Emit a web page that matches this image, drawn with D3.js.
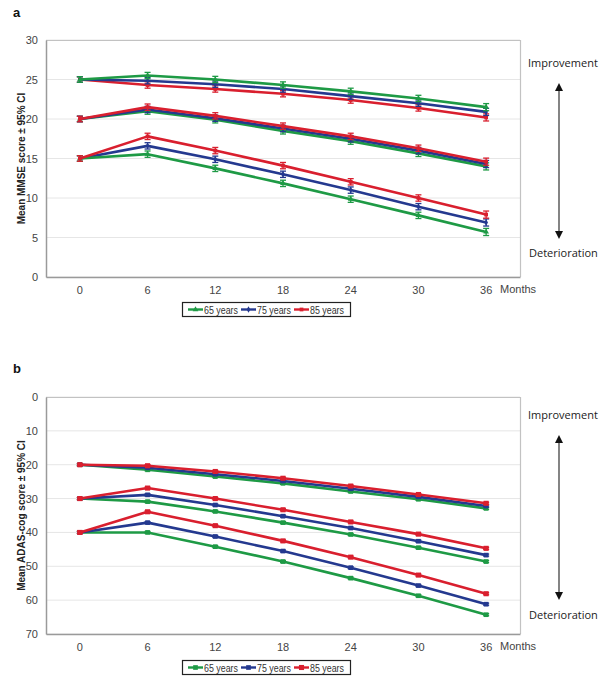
<!DOCTYPE html>
<html><head><meta charset="utf-8">
<script src="https://cdn.jsdelivr.net/npm/d3@7/dist/d3.min.js"></script>
<style>
body{margin:0;background:#fff;}
svg{display:block;font-family:"Liberation Sans",Arial,sans-serif;}
</style></head>
<body>
<svg id="chart" width="600" height="685"></svg>
<script>
// ---- Data ----
const months = ["0","6","12","18","24","30","36"];
const ageGroups = ["65 years","75 years","85 years"];
const ageColors = ["#1e9a45","#24398f","#d91f2e"];

// Panel a: MMSE (baseline 25, 20, 15)
const mmse65_25 = [25, 25.5, 25.0, 24.3, 23.5, 22.6, 21.5];
const mmse75_25 = [25, 24.85, 24.4, 23.8, 22.9, 22.0, 20.9];
const mmse85_25 = [25, 24.3, 23.8, 23.2, 22.4, 21.4, 20.2];
const mmse65_20 = [20, 21.0, 19.9, 18.5, 17.2, 15.65, 14.0];
const mmse75_20 = [20, 21.2, 20.1, 18.8, 17.5, 16.0, 14.3];
const mmse85_20 = [20, 21.5, 20.4, 19.1, 17.8, 16.3, 14.6];
const mmse65_15 = [15, 15.55, 13.75, 11.85, 9.85, 7.8, 5.7];
const mmse75_15 = [15, 16.6, 14.9, 13.0, 11.0, 8.9, 6.9];
const mmse85_15 = [15, 17.8, 16.0, 14.1, 12.05, 10.0, 7.9];
const mmseCI = [0.35, 0.4, 0.4, 0.4, 0.4, 0.4, 0.45];
const mmseTicks = [0,5,10,15,20,25,30];

// Panel b: ADAS-cog (baseline 20, 30, 40)
const adas65_20 = [20, 21.5, 23.5, 25.5, 27.9, 30.2, 32.9];
const adas75_20 = [20, 20.9, 22.8, 24.8, 27.1, 29.5, 32.2];
const adas85_20 = [20, 20.3, 22.0, 24.0, 26.3, 28.8, 31.4];
const adas65_30 = [30, 30.9, 33.8, 37.1, 40.6, 44.5, 48.6];
const adas75_30 = [30, 28.9, 31.9, 35.2, 38.7, 42.6, 46.7];
const adas85_30 = [30, 26.9, 30.0, 33.3, 36.9, 40.5, 44.7];
const adas65_40 = [40, 40.0, 44.2, 48.6, 53.5, 58.7, 64.3];
const adas75_40 = [40, 37.1, 41.2, 45.5, 50.4, 55.7, 61.2];
const adas85_40 = [40, 33.9, 38.0, 42.5, 47.3, 52.6, 58.1];
const adasCI = [0.3, 0.3, 0.3, 0.3, 0.3, 0.3, 0.3];
const adasTicks = [0,10,20,30,40,50,60,70];

const svg = d3.select("#chart");

function drawPanel(cfg){
  const g = svg.append("g");
  const x = d3.scaleBand().domain(months).range([cfg.left, cfg.right]);
  const xc = m => x(m) + x.bandwidth()/2;
  const y = d3.scaleLinear().domain(cfg.domain).range([cfg.bottom, cfg.top]);

  // panel letter
  g.append("text").attr("x", 13).attr("y", cfg.letterY).text(cfg.letter)
    .attr("font-weight","bold").attr("font-size",13).attr("fill","#111");

  // grid
  g.append("g").selectAll("line").data(cfg.ticks).join("line")
    .attr("x1", cfg.left).attr("x2", cfg.right)
    .attr("y1", d=>y(d)).attr("y2", d=>y(d))
    .attr("stroke","#e6e6e6").attr("stroke-width",1);

  // frame (top & right)
  g.append("path")
    .attr("d", `M${cfg.left},${cfg.top+0.5}H${cfg.right+0.5}V${cfg.bottom}`)
    .attr("fill","none").attr("stroke","#c2c2c2").attr("stroke-width",1.2);

  // y axis
  const yAxis = d3.axisLeft(y).tickValues(cfg.ticks).tickSize(0).tickPadding(8);
  const ya = g.append("g").attr("transform",`translate(${cfg.left},0)`).call(yAxis);
  ya.select(".domain").attr("stroke","#9a9a9a").attr("stroke-width",1.5);
  ya.selectAll("text").attr("font-size",11).attr("fill","#444")
    .attr("font-family","'Liberation Sans',Arial,sans-serif");

  // x axis
  const xAxis = d3.axisBottom(x).tickSize(0).tickPadding(9);
  const xa = g.append("g").attr("transform",`translate(0,${cfg.axisY})`).call(xAxis);
  xa.select(".domain").attr("stroke","#9a9a9a").attr("stroke-width",1.5);
  xa.selectAll("text").attr("font-size",11).attr("fill","#444")
    .attr("font-family","'Liberation Sans',Arial,sans-serif");
  g.append("text").attr("x", 500).attr("y", cfg.axisY + 16).text("Months")
    .attr("font-size",11).attr("fill","#444");

  // y label
  g.append("text")
    .attr("transform",`translate(25,${(cfg.top+cfg.bottom)/2}) rotate(-90)`)
    .attr("text-anchor","middle").attr("font-size",10).attr("font-weight","bold")
    .attr("fill","#222").text(cfg.ylabel);

  // series
  const line = d3.line().x((d,i)=>xc(months[i])).y(d=>y(d));
  cfg.series.forEach(s=>{
    const col = ageColors[s.age];
    g.append("path").datum(s.values).attr("d", line)
      .attr("fill","none").attr("stroke",col).attr("stroke-width",2.6)
      .attr("stroke-linejoin","round");
    const eb = g.append("g").attr("stroke",col).attr("stroke-width",1.3);
    s.values.forEach((v,i)=>{
      const cx = xc(months[i]), e = cfg.ci[i];
      const y1 = y(v - e), y2 = y(v + e);
      eb.append("line").attr("x1",cx).attr("x2",cx).attr("y1",y1).attr("y2",y2);
      eb.append("line").attr("x1",cx-3).attr("x2",cx+3).attr("y1",y1).attr("y2",y1);
      eb.append("line").attr("x1",cx-3).attr("x2",cx+3).attr("y1",y2).attr("y2",y2);
    });
    const ms = cfg.markerSize[s.age];
    g.append("g").selectAll("path").data(s.values).join("path")
      .attr("transform",(d,i)=>`translate(${xc(months[i])},${y(d)})`)
      .attr("d", d3.symbol().type(cfg.markerTypes[s.age]).size(ms))
      .attr("fill",col);
  });

  // legend
  const lg = g.append("g");
  lg.append("rect").attr("x",182.5).attr("y",cfg.legendY+0.5).attr("width",168).attr("height",14)
    .attr("fill","#fff").attr("stroke","#222").attr("stroke-width",1.2);
  const legX = [188, 241, 294];
  ageGroups.forEach((a,i)=>{
    const lx = legX[i], ly = cfg.legendY + 7.5;
    lg.append("line").attr("x1",lx).attr("x2",lx+15).attr("y1",ly).attr("y2",ly)
      .attr("stroke",ageColors[i]).attr("stroke-width",2.4);
    lg.append("path").attr("transform",`translate(${lx+7.5},${ly})`)
      .attr("d", d3.symbol().type(cfg.markerTypes[i]).size(cfg.markerSize[i])).attr("fill",ageColors[i]);
    lg.append("text").attr("x",lx+16).attr("y",ly+4).text(a)
      .attr("font-size",11).attr("fill","#333")
      .attr("textLength",34).attr("lengthAdjust","spacingAndGlyphs");
  });

  // improvement / deterioration arrow
  g.append("text").attr("x",528).attr("y",cfg.impY).text("Improvement")
    .attr("font-size",11).attr("fill","#222").attr("font-family","'Open Sans',sans-serif");
  g.append("text").attr("x",529).attr("y",cfg.detY).text("Deterioration")
    .attr("font-size",11).attr("fill","#222").attr("font-family","'Open Sans',sans-serif");
  g.append("line").attr("x1",559).attr("x2",559).attr("y1",cfg.arrTop+6).attr("y2",cfg.arrBot-6)
    .attr("stroke","#333").attr("stroke-width",1.2);
  g.append("path").attr("d",`M559,${cfg.arrTop}l-4,8h8z`).attr("fill","#111");
  g.append("path").attr("d",`M559,${cfg.arrBot}l-4,-8h8z`).attr("fill","#111");
}

drawPanel({
  letter:"a", letterY:17,
  left:46, right:520, top:40, bottom:277, axisY:277,
  domain:[0,30], ticks:mmseTicks, ci:mmseCI,
  ylabel:"Mean MMSE score \u00b1 95% CI",
  legendY:302,
  markerTypes:[d3.symbolTriangle, d3.symbolDiamond, d3.symbolSquare],
  markerSize:[14,12,14],
  impY:67, detY:257, arrTop:83, arrBot:239,
  series:[
    {age:1, values:mmse75_15},{age:0, values:mmse65_15},{age:2, values:mmse85_15},
    {age:0, values:mmse65_20},{age:1, values:mmse75_20},{age:2, values:mmse85_20},
    {age:2, values:mmse85_25},{age:1, values:mmse75_25},{age:0, values:mmse65_25}
  ]
});

drawPanel({
  letter:"b", letterY:373,
  left:46, right:520, top:397, bottom:634, axisY:634,
  domain:[70,0], ticks:adasTicks, ci:adasCI,
  ylabel:"Mean ADAS-cog score \u00b1 95% CI",
  legendY:660,
  markerTypes:[d3.symbolSquare, d3.symbolSquare, d3.symbolSquare],
  markerSize:[22,22,26],
  impY:419, detY:619, arrTop:435, arrBot:600,
  series:[
    {age:0, values:adas65_20},{age:1, values:adas75_20},{age:2, values:adas85_20},
    {age:0, values:adas65_30},{age:1, values:adas75_30},{age:2, values:adas85_30},
    {age:0, values:adas65_40},{age:1, values:adas75_40},{age:2, values:adas85_40}
  ]
});
</script>
</body></html>
